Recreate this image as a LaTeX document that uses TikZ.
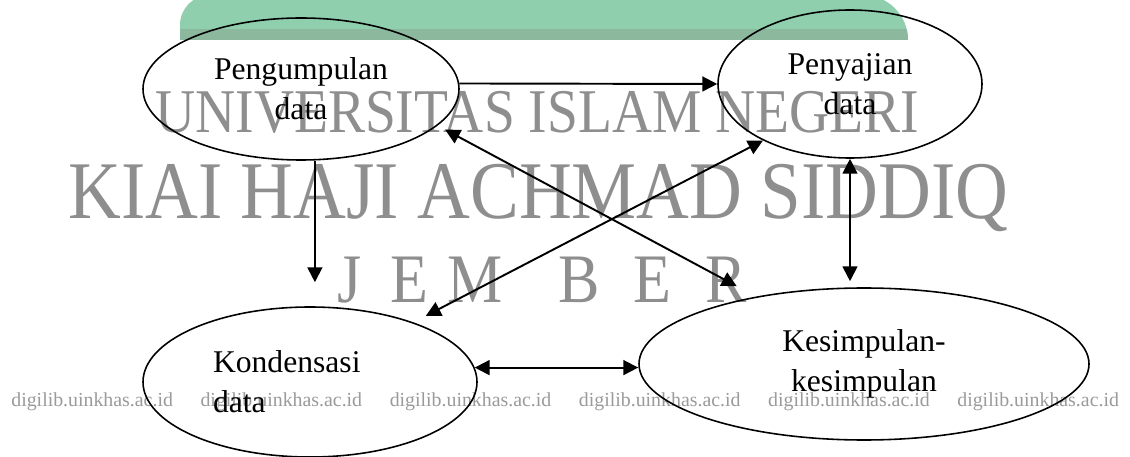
\documentclass[tikz,border=0pt]{standalone}
\usepackage{fontspec}
\setmainfont{Liberation Serif}
\usetikzlibrary{shapes.geometric, arrows.meta, positioning, calc}
\definecolor{wmgray}{HTML}{8E8E8E}
\definecolor{dlgray}{HTML}{9A9A9A}
\definecolor{bannergreen}{HTML}{8FCFAD}
\definecolor{bandgreen}{HTML}{8CB89E}

\begin{document}
\begin{tikzpicture}[
  proc/.style={ellipse, draw=black, line width=0.9pt, inner sep=0pt, align=center, font=\fontsize{18}{22.8}\selectfont},
  arr/.style={-{Triangle[length=8.5pt,width=8.5pt]}, line width=1.1pt},
  dbl/.style={{Triangle[length=8.5pt,width=8.5pt]}-{Triangle[length=8.5pt,width=8.5pt]}, line width=1.1pt},
  wm/.style={text=wmgray, inner sep=0pt, anchor=base west},
  dl/.style={text=dlgray, inner sep=0pt, anchor=base west, font=\fontsize{11.3}{13}\selectfont},
]
\useasboundingbox (0,0) rectangle (22.6,9.12);

% --- banner and watermark ---
\path[fill=bannergreen] (3.6,8.32) -- (3.6,8.62) arc[start angle=180, end angle=90, radius=0.6] -- (17.26,9.22) arc[start angle=90, end angle=0, radius=0.9] -- cycle;
\begin{scope}
  \clip (3.6,8.32) -- (3.6,8.62) arc[start angle=180, end angle=90, radius=0.6] -- (17.26,9.22) arc[start angle=90, end angle=0, radius=0.9] -- cycle;
  \fill[bandgreen] (3.6,8.32) rectangle (18.2,8.54);
\end{scope}
\node[wm, font=\fontsize{31.6}{36}\selectfont] (wmuniv) at (3.10,6.46) {\scalebox{1}[1.12]{UNIVERSITAS ISLAM NEGERI}};
\node[wm, font=\fontsize{41.6}{48}\selectfont] (wmkiai) at (1.36,4.74) {\scalebox{1}[1.12]{KIAI HAJI ACHMAD SIDDIQ}};
\foreach \ch/\x [count=\i] in {J/6.74, E/7.80, M/8.94, B/11.16, E/12.66, R/14.10}
  \node[wm, font=\fontsize{35.3}{40}\selectfont] (wmjember\i) at (\x,3.06) {\scalebox{1}[1.12]{\ch}};
\foreach \i in {0,...,5}
  \node[dl] (digilib\i) at ({0.22+3.784*\i},0.98) {digilib.uinkhas.ac.id};

% --- stages ---
\node[proc, minimum width=6.32cm, minimum height=2.84cm] (kumpul) at (6.02,7.34) {Pengumpulan\\data};
\node[proc, minimum width=5.28cm, minimum height=2.96cm] (saji) at (17.00,7.44) {Penyajian\\data};
\node[proc, minimum width=6.68cm, minimum height=3.00cm, text width=3.88cm, align=left] (kondensasi) at (6.20,1.48) {Kondensasi\\data};
\node[proc, minimum width=9.00cm, minimum height=3.04cm] (simpul) at (17.28,1.84) {Kesimpulan-\\kesimpulan};

% --- arrows ---
\draw[arr] (kumpul.2) -- (saji.west);
\draw[arr, shorten >=0.48cm] (kumpul.-79) -- (kumpul.-79 |- kondensasi.north);
\draw[dbl, shorten >=0.12cm] (saji.south) -- (saji.south |- simpul.north);
\draw[dbl] (kondensasi.5) -- (kondensasi.5 -| simpul.west);
\draw[dbl, shorten <=0.17cm, shorten >=0.44cm] (kumpul.-15) -- (simpul.148);
\draw[dbl, shorten >=0.28cm] (saji.-147) -- (kondensasi.30);
\end{tikzpicture}
\end{document}
